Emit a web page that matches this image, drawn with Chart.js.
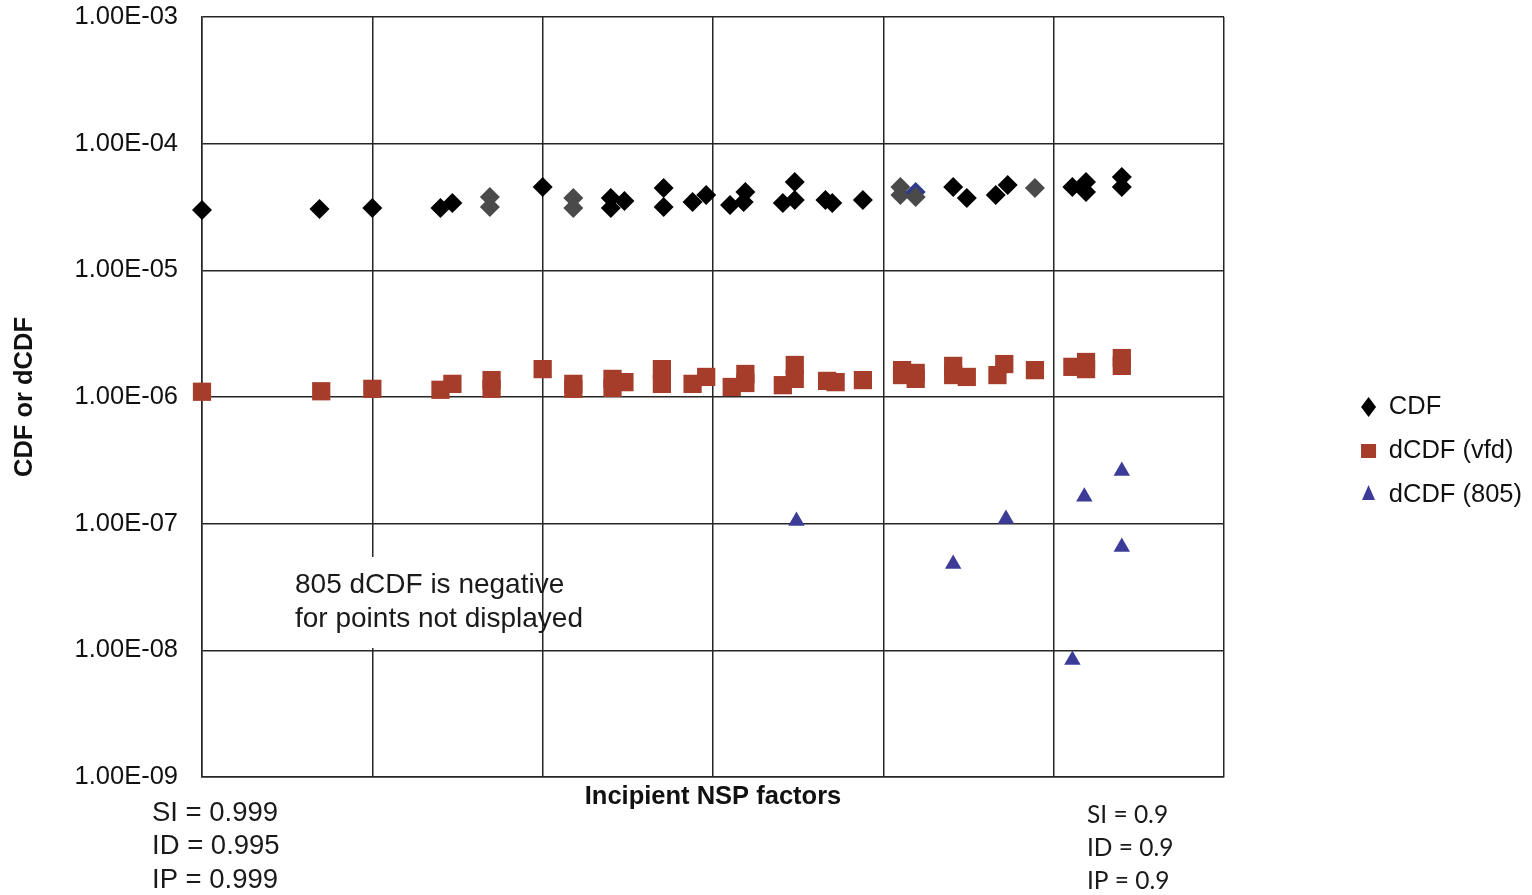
<!DOCTYPE html>
<html><head><meta charset="utf-8">
<script src="https://cdn.jsdelivr.net/npm/chart.js@4"></script>
<style>html,body{margin:0;padding:0;background:#fff;overflow:hidden}#wrap{width:1532px;height:895px;position:relative}</style>
</head><body><div id="wrap"><canvas id="c"></canvas></div>
<script>
// ---- data ----
const cdfX = [0.00,0.69,1.00,1.40,1.47,1.69,1.69,2.00,2.18,2.18,2.40,2.40,2.48,2.71,2.71,2.88,2.96,3.10,3.19,3.18,3.41,3.48,3.48,3.66,3.70,3.88,4.10,4.10,4.19,4.19,4.41,4.49,4.66,4.73,4.89,5.11,5.19,5.19,5.40,5.40];
const cdfY = [2.99e-5,3.05e-5,3.10e-5,3.10e-5,3.40e-5,3.79e-5,3.16e-5,4.55e-5,3.73e-5,3.10e-5,3.73e-5,3.10e-5,3.53e-5,4.47e-5,3.16e-5,3.46e-5,3.93e-5,3.28e-5,4.15e-5,3.46e-5,3.40e-5,4.98e-5,3.59e-5,3.59e-5,3.40e-5,3.59e-5,4.55e-5,3.93e-5,4.15e-5,3.79e-5,4.55e-5,3.73e-5,3.93e-5,4.72e-5,4.47e-5,4.55e-5,4.98e-5,4.15e-5,5.46e-5,4.55e-5];
const vfdX = [0.00,0.70,1.00,1.40,1.47,1.70,1.70,2.00,2.18,2.18,2.41,2.41,2.48,2.70,2.70,2.88,2.96,3.11,3.19,3.19,3.41,3.48,3.48,3.67,3.72,3.88,4.11,4.11,4.19,4.19,4.41,4.41,4.49,4.67,4.71,4.89,5.11,5.19,5.19,5.40,5.40];
const vfdY = [1.10e-6,1.11e-6,1.16e-6,1.14e-6,1.27e-6,1.36e-6,1.16e-6,1.66e-6,1.27e-6,1.16e-6,1.39e-6,1.18e-6,1.31e-6,1.66e-6,1.27e-6,1.27e-6,1.44e-6,1.20e-6,1.52e-6,1.29e-6,1.24e-6,1.79e-6,1.39e-6,1.34e-6,1.31e-6,1.36e-6,1.63e-6,1.49e-6,1.55e-6,1.39e-6,1.76e-6,1.49e-6,1.44e-6,1.49e-6,1.82e-6,1.63e-6,1.73e-6,1.89e-6,1.66e-6,2.03e-6,1.76e-6];
const d805X = [3.49,4.41,4.72,5.18,5.40,5.40,5.11];
const d805Y = [1.05e-7,4.81e-8,1.09e-7,1.63e-7,2.61e-7,6.55e-8,8.39e-9];
const seriesNames = ['CDF','dCDF (vfd)','dCDF (805)'];
const yTickValues = [1e-9,1e-8,1e-7,1e-6,1e-5,1e-4,1e-3];
const yTickLabels = ['1.00E-09','1.00E-08','1.00E-07','1.00E-06','1.00E-05','1.00E-04','1.00E-03'];
const xMin = 0, xMax = 6, xStep = 1;
const fadedCdf = [5,6,8,9,26,27,29,34];
const blueCdf = [28];
const noteLines = ['805 dCDF is negative','for points not displayed'];
const leftFactors = ['SI = 0.999','ID = 0.995','IP = 0.999'];
const rightFactors = ['SI = 0.9','ID = 0.9','IP = 0.9'];
const yTitle = 'CDF or dCDF';
const xTitle = 'Incipient NSP factors';

const toPts = (xs, ys) => xs.map((x, i) => ({x: x, y: ys[i]}));
const gridColor = '#262626';
const sans = '"Liberation Sans", Arial, sans-serif';

const notesPlugin = {
  id: 'notes',
  beforeDatasetsDraw(chart) {
    const ctx = chart.ctx;
    ctx.save();
    ctx.fillStyle = '#fff';
    ctx.fillRect(282, 557, 250, 91);
    ctx.restore();
  },
  afterDraw(chart) {
    const ctx = chart.ctx;
    ctx.save();
    ctx.fillStyle = '#1a1a1a';
    ctx.textBaseline = 'middle';
    ctx.textAlign = 'left';
    ctx.font = '28px ' + sans;
    noteLines.forEach((t, i) => ctx.fillText(t, 295, 585 + i * 34));
    ctx.font = '27.5px ' + sans;
    leftFactors.forEach((t, i) => ctx.fillText(t, 152, 813 + i * 33.5));
    ctx.font = '24.5px Lato, "Open Sans", sans-serif';
    rightFactors.forEach((t, i) => ctx.fillText(t, 1087, 815 + i * 33));
    ctx.restore();
  }
};

new Chart(document.getElementById('c'), {
  type: 'scatter',
  data: {
    datasets: [
      {
        label: seriesNames[0],
        data: toPts(cdfX, cdfY),
        clip: false,
        pointStyle: 'rectRot',
        pointRadius: 10,
        borderWidth: 0,
        backgroundColor: (c) => blueCdf.includes(c.dataIndex) ? '#2f3a8a' : (fadedCdf.includes(c.dataIndex) ? '#4a4a4a' : '#000'),
        borderColor: '#000'
      },
      {
        label: seriesNames[1],
        data: toPts(vfdX, vfdY),
        clip: false,
        pointStyle: 'rect',
        pointRadius: 12.9,
        borderWidth: 0,
        backgroundColor: '#a63d2a',
        borderColor: '#a63d2a'
      },
      {
        label: seriesNames[2],
        data: toPts(d805X, d805Y),
        clip: false,
        pointStyle: 'triangle',
        pointRadius: 9.5,
        borderWidth: 0,
        backgroundColor: '#3c3c98',
        borderColor: '#3c3c98'
      }
    ]
  },
  options: {
    responsive: true,
    maintainAspectRatio: false,
    animation: false,
    events: [],
    layout: { padding: { top: 17, left: 0, right: 0, bottom: 10 } },
    plugins: {
      tooltip: { enabled: false },
      legend: {
        position: 'right',
        align: 'center',
        labels: {
          usePointStyle: true,
          pointStyleWidth: 15,
          boxHeight: 14,
          padding: 18.5,
          color: '#111',
          font: { family: sans, size: 25.5 }
        }
      }
    },
    scales: {
      x: {
        type: 'linear',
        min: xMin, max: xMax,
        ticks: { stepSize: xStep, display: false },
        grid: { color: gridColor, lineWidth: 1.5, drawTicks: false },
        border: { color: gridColor, width: 1.5 },
        title: {
          display: true, text: xTitle, color: '#111',
          font: { family: sans, size: 25.5, weight: 'bold' },
          padding: { top: 4, bottom: 73 }
        },
        afterFit(s) { s.height = 108; s.paddingLeft = 0; s.paddingRight = 0; }
      },
      y: {
        type: 'logarithmic',
        min: yTickValues[0], max: yTickValues[yTickValues.length - 1],
        afterBuildTicks(s) { s.ticks = yTickValues.map(v => ({ value: v, major: true })); },
        ticks: {
          callback: (v, i) => yTickLabels[i],
          color: '#111',
          padding: 24,
          autoSkip: false,
          font: { family: sans, size: 25.5 }
        },
        grid: { color: gridColor, lineWidth: 1.5, drawTicks: false },
        border: { color: gridColor, width: 1.5 },
        title: {
          display: true, text: yTitle, color: '#111',
          font: { family: sans, size: 25.5, weight: 'bold' },
          padding: { top: 10, bottom: 0 }
        },
        afterFit(s) { s.width = 202; s.paddingTop = 0; s.paddingBottom = 0; }
      },
      yR: {
        type: 'linear',
        position: 'right',
        display: true,
        grid: { display: false, drawTicks: false },
        border: { display: false },
        ticks: { display: false },
        afterFit(s) { s.width = Math.max(0, 1532 - 1224 - (s.chart.legend ? s.chart.legend.width : 0)); s.paddingTop = 0; s.paddingBottom = 0; }
      }
    }
  },
  plugins: [notesPlugin]
});
</script>
</body></html>
